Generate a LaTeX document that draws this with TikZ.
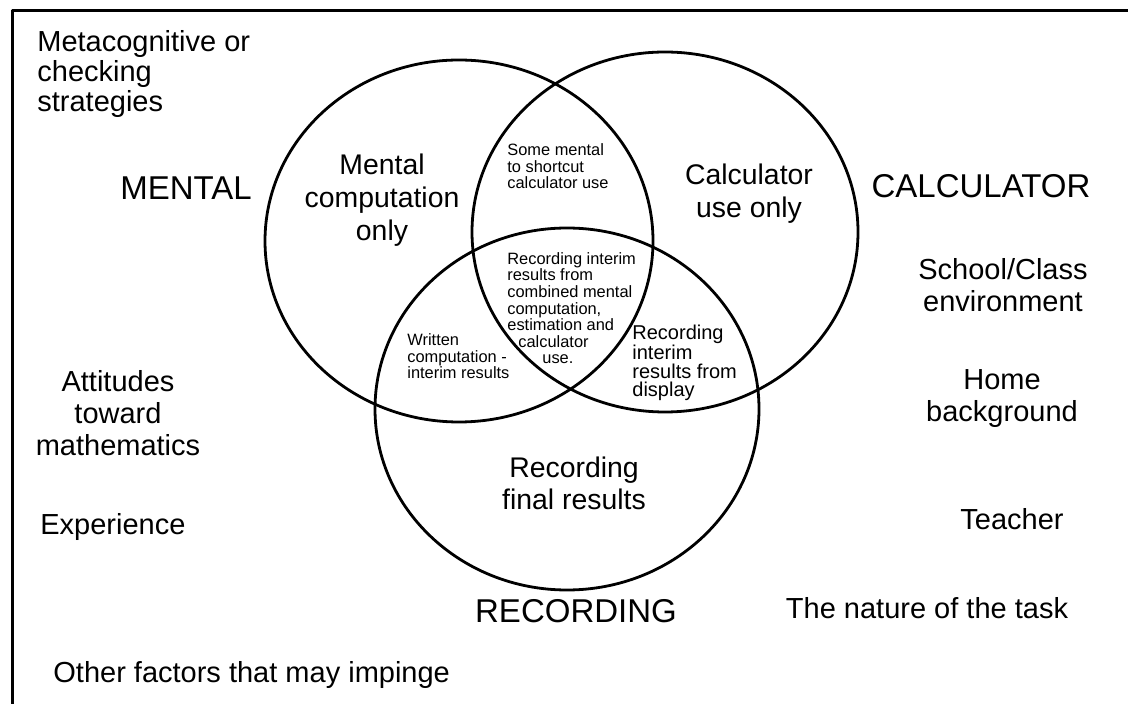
\documentclass[tikz,border=0pt]{standalone}
\usepackage{fontspec}
\setmainfont{Liberation Sans}
\definecolor{ink}{RGB}{0,0,0}

\begin{document}
\begin{tikzpicture}[x=.5pt,y=-.5pt,line cap=round,line join=round,
  side/.style={font=\fontsize{14.5}{16}\selectfont,text=ink,inner sep=0pt},
  setname/.style={font=\fontsize{16.5}{18}\selectfont,text=ink,inner sep=0pt},
  region/.style={font=\fontsize{14.2}{16.5}\selectfont,text=ink,inner sep=0pt,align=center},
  overlap/.style={font=\fontsize{8.2}{8.3}\selectfont,text=ink,inner sep=0pt,align=left},
  setline/.style={ink,line width=1.4pt}]
\useasboundingbox (0,0) rectangle (1128,704);
% frame (top and left edges only)
\draw[ink,line width=1.5pt] (1128,11) -- (12,11) -- (12,704);
% the three sets
\draw[setline] (459,241) ellipse[x radius=194,y radius=181];
\draw[setline] (665,232) ellipse[x radius=193,y radius=180];
\draw[setline] (567,409) ellipse[x radius=192,y radius=181];
% set names
\node[setname,anchor=base] (mental) at (186,200) {MENTAL};
\node[setname,anchor=base] (calc) at (981,198) {CALCULATOR};
\node[setname,anchor=base] (rec) at (576,622) {RECORDING};
% regions (base = last line)
\node[region,anchor=base] (mentalonly) at (382,241) {Mental\\computation\\only};
\node[region,anchor=base] (calconly) at (749,218) {Calculator\\use only};
\node[region,anchor=base] (final) at (574,510) {Recording\\final results};
\node[overlap,anchor=base west] (shortcut) at (507,189) {Some mental\\to shortcut\\calculator use};
\node[overlap,anchor=base west] (combined) at (507,364) {Recording interim\\results from\\combined mental\\computation,\\estimation and\\\hspace*{5.5pt}calculator\\\hspace*{17.5pt}use.};
\node[overlap,anchor=base west] (written) at (407,379) {Written\\computation -\\interim results};
\node[overlap,anchor=base west,font=\fontsize{10}{9.3}\selectfont] (display) at (632,397) {Recording\\interim\\results from\\display};
% factors that may impinge
\node[side,anchor=base west,align=left,font=\fontsize{14.5}{15}\selectfont] (meta) at (37,112) {Metacognitive or\\checking\\strategies};
\node[side,anchor=base,align=center] (attitudes) at (118,456) {Attitudes\\toward\\mathematics};
\node[side,anchor=base west] (experience) at (40,535) {Experience};
\node[side,anchor=base west] (other) at (53,682) {Other factors that may impinge};
\node[side,anchor=base,align=center] (school) at (1003,312) {School/Class\\environment};
\node[side,anchor=base,align=center] (home) at (1002,422) {Home\\background};
\node[side,anchor=base] (teacher) at (1012,530) {Teacher};
\node[side,anchor=base] (task) at (927,618) {The nature of the task};
\end{tikzpicture}
\end{document}
